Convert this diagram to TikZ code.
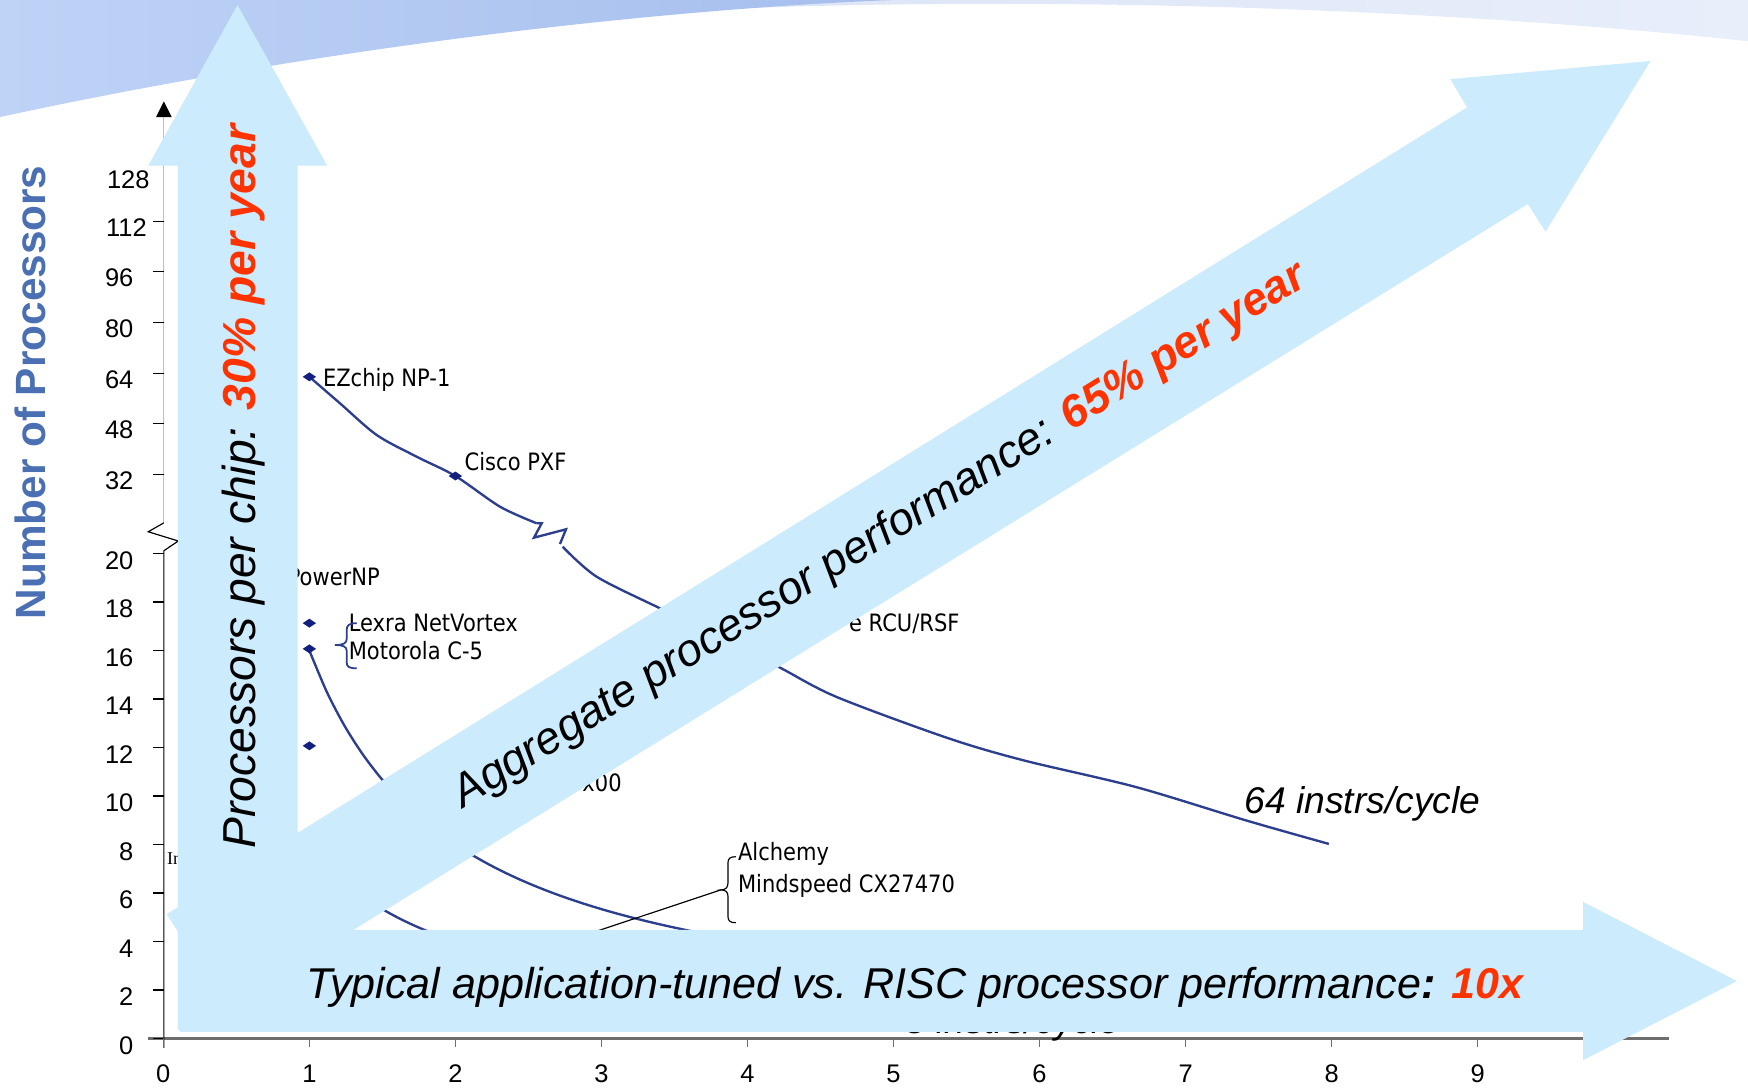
\documentclass[tikz,border=0pt]{standalone}
\usepackage{fontspec}
\setmainfont{Liberation Sans}
\newfontfamily\serifLbl{Liberation Serif}
\newfontfamily\chipFont[FakeStretch=0.88]{DejaVu Sans}
\usetikzlibrary{positioning}

\definecolor{arrowBlue}{RGB}{204,235,253}
\definecolor{hotRed}{RGB}{255,51,0}
\definecolor{titleBlue}{RGB}{74,111,178}
\definecolor{curveBlue}{RGB}{44,62,142}
\definecolor{markBlue}{RGB}{20,32,128}
\definecolor{axisGray}{RGB}{110,110,110}
\definecolor{swooshLeft}{RGB}{190,211,246}
\definecolor{swooshMid}{RGB}{166,190,237}
\definecolor{swooshPale}{RGB}{220,229,248}
\definecolor{swooshFade}{RGB}{232,238,250}

\tikzset{
    tickLabel/.style={font=\fontsize{13}{15}\selectfont, inner sep=0pt},
    chipLabel/.style={font=\chipFont\fontsize{12.2}{14}\selectfont, inner sep=0pt, anchor=base west},
    rateLabel/.style={font=\fontsize{19}{22}\selectfont\itshape, inner sep=0pt, anchor=base west},
    bigArrow/.style={fill=arrowBlue, draw=none},
    trendText/.style={font=\fontsize{23.6}{28}\selectfont\itshape, inner sep=0pt, anchor=base},
    curveLine/.style={curveBlue, line width=1.2pt, line join=round},
    chipMark/.style={fill=markBlue, draw=none}
}
\newcommand{\diamondMark}[1]{\fill[chipMark] (#1) +(-6,0) -- +(0,-4) -- +(6,0) -- +(0,4) -- cycle;}

\begin{document}
\begin{tikzpicture}[x=0.02cm, y=-0.02cm]
  \useasboundingbox (0,0) rectangle (1568,977);
  \fill[white] (0,0) rectangle (1568,977);

  % top swoosh
  \shade[left color=swooshPale, right color=swooshFade] (650,0) -- (1568,0) -- (1568,37) .. controls (1300,8) and (950,-4) .. (650,8) -- cycle;
  \shade[left color=swooshLeft, right color=swooshMid] (0,0) -- (800,0) .. controls (600,8) and (300,40) .. (0,105) -- cycle;

  % axes
  \draw[axisGray, line width=1.1pt] (133,931.5) -- (1497,931.5);
  \draw[black!25, line width=0.5pt] (147,105) -- (147,469);
  \draw[line width=0.6pt] (147,469) -- (133,477) -- (160,485.3) -- (147,494) -- (147,940);
  \fill (147,91) -- (154,105) -- (140,105) -- cycle;

  \foreach \v in {0,2,...,20} {
    \draw[line width=0.6pt] (137.5,{931.5-21.75*\v}) -- (147,{931.5-21.75*\v});
    \node (yl\v) [tickLabel, anchor=base east] at (120,{945.5-21.75*\v}) {\v};
  }
  \foreach \v/\xr in {32/120,48/120,64/120,80/120,96/120,112/132} {
    \draw[line width=0.6pt] (137.5,{425.5-2.8375*(\v-32)}) -- (147,{425.5-2.8375*(\v-32)});
    \node (yl\v) [tickLabel, anchor=base east] at (\xr,{439-2.8375*(\v-32)}) {\v};
  }
  \node (yl128) [tickLabel, anchor=base east] at (134.5,169) {128};
  \foreach \t in {0,...,9} {
    \draw[axisGray, line width=0.6pt] ({146.5+131*\t},931.5) -- ({146.5+131*\t},939);
    \node (xl\t) [tickLabel, anchor=base] at ({146.5+131*\t},971) {\t};
  }
  \node (yTitle) [font=\fontsize{21.6}{24}\selectfont\bfseries, text=titleBlue, rotate=90, inner sep=0pt] at (27.5,352) {Number of Processors};

  % curves
  \draw[curveLine] plot[smooth] coordinates {(277.5,338) (305,361.8) (337.9,390.2) (373.8,409.7) (408.5,427) (448.5,454.5) (481.4,469.4)};
  \draw[curveLine, line join=miter] (481.4,469.4) -- (485.9,469.4) -- (479,482.3) -- (507.7,474.8) -- (502.3,488);
  \draw[curveLine] plot[smooth] coordinates {(504.7,490.4) (535.2,517.3) (592,545.7) (645,572) (698,598) (750,625) (850,662) (918,682) (1019,706) (1118,736) (1192,757)};
  \draw[curveLine] plot[domain=1:8, samples=60, smooth] ({146.5+131*\x},{931.5-348/\x});
  \draw[curveLine] plot[domain=1:8, samples=60, smooth] ({146.5+131*\x},{931.5-174/\x});

  \diamondMark{277.5,338}
  \diamondMark{408.5,427}
  \diamondMark{277.5,559}
  \diamondMark{277.5,582}
  \diamondMark{277.5,669}

  \node (ezLbl) [chipLabel] at (289.4,347) {EZchip NP-1};
  \node (ciscoLbl) [chipLabel] at (416.5,421.6) {Cisco PXF};
  \node (powerLbl) [chipLabel, anchor=base east] at (341,525) {PowerNP};
  \node (lexraLbl) [chipLabel] at (312.5,566.6) {Lexra NetVortex};
  \node (motoLbl) [chipLabel] at (312.5,592) {Motorola C-5};
  \node (cogLbl) [chipLabel, anchor=base east] at (861,566.6) {e RCU/RSF};
  \node (vitLbl) [chipLabel, anchor=base east] at (558,710) {x00};
  \node (alchLbl) [chipLabel] at (661.7,771.5) {Alchemy};
  \node (mindLbl) [chipLabel] at (661.7,800.7) {Mindspeed CX27470};
  \node (intelLbl) [inner sep=0pt, anchor=base west, font={\serifLbl\fontsize{9.2}{10}\selectfont}] at (149.5,775.3) {In};
  \node (r64Lbl) [rateLabel] at (1116,730) {64 instrs/cycle};
  \node (r8Lbl) [rateLabel] at (812,927) {8 instrs/cycle};

  \draw[curveBlue, line width=0.9pt] (320,559) .. controls (313,559) and (311,561) .. (311,565) -- (311,573) .. controls (311,577) and (308,578.6) .. (300.5,578.6) .. controls (308,578.6) and (311,580) .. (311,584) -- (311,594) .. controls (311,598) and (313,599.5) .. (320,599.5);
  \draw[line width=0.6pt] (660,768.5) .. controls (655,768.5) and (653,770) .. (653,774) -- (653,792) .. controls (653,796) and (651,798.3) .. (646.5,798.3) .. controls (651,798.3) and (653,800) .. (653,804) -- (653,822) .. controls (653,826) and (655,827.7) .. (660,827.7);
  \coordinate (alchTip) at (646.5,798.3);
  \coordinate (alchEnd) at (500,847);
  \draw[line width=0.6pt] (alchTip) -- (alchEnd);

  % trend arrows
  \fill[bigArrow] (159.5,924) -- (159.5,148.6) -- (133,148.6) -- (213,4.5) -- (293.5,148.6) -- (267,148.6) -- (267,924) -- cycle;
  \fill[bigArrow] (161.5,834) -- (1420,834) -- (1420,809) -- (1558,880) -- (1420,951) -- (1420,925.5) -- (161.5,925.5) -- cycle;
  \fill[bigArrow] (149.5,820) -- (1316,96.3) -- (1301,71) -- (1480.5,54.7) -- (1386.4,207.8) -- (1370.5,183) -- (204,904) -- cycle;

  \node (chipTrend) [trendText, rotate=90] at (229,436.5) {Processors per chip: \textcolor{hotRed}{\bfseries 30\% per year}};
  \node (aggTrend) [trendText, font=\fontsize{23.1}{28}\selectfont\itshape, rotate=31.8] at (795,490) {Aggregate processor performance: \textcolor{hotRed}{\bfseries 65\% per year}};
  \node (tunedTrend) [trendText, font=\fontsize{22}{26}\selectfont\itshape] at (821,895.5) {Typical application-tuned vs. RISC processor performance\textbf{: }\textcolor{hotRed}{\bfseries 10x}};
\end{tikzpicture}
\end{document}
